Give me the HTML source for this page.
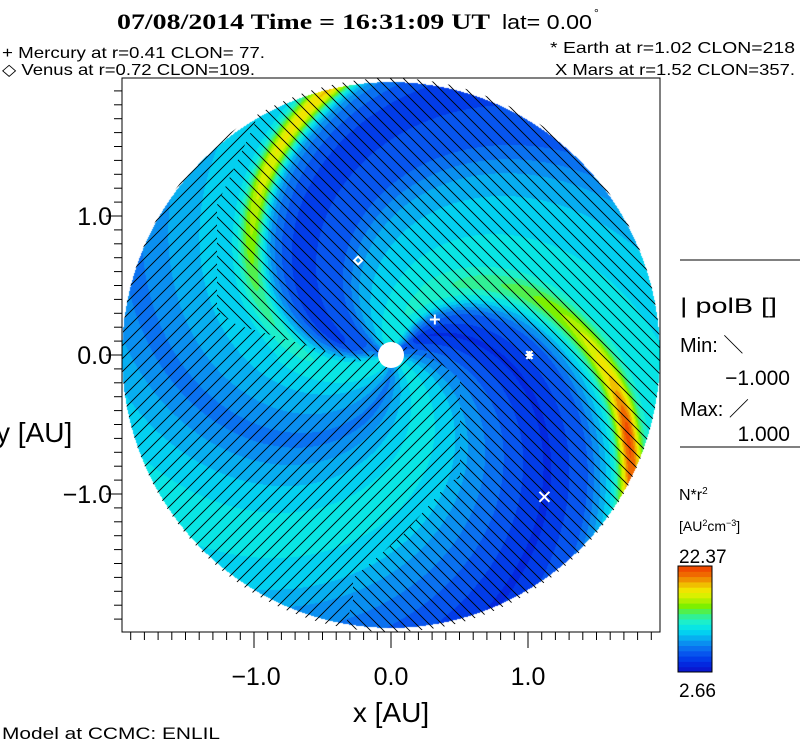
<!DOCTYPE html>
<html><head><meta charset="utf-8"><style>
html,body{margin:0;padding:0;background:#fff;}
body{width:800px;height:746px;position:relative;overflow:hidden;font-family:"Liberation Sans",sans-serif;}
#map{position:absolute;left:121px;top:77px;}
svg{position:absolute;left:0;top:0;}
</style></head><body>
<canvas id="map" width="540" height="557"></canvas>
<svg id="ov" width="800" height="746">
<defs>
<pattern id="hb" patternUnits="userSpaceOnUse" width="13" height="13"><path d="M-1,-1 L14,14 M-1,12 L1,14 M12,-1 L14,1" stroke="#000" stroke-width="0.9"/></pattern>
<pattern id="hf" patternUnits="userSpaceOnUse" width="13" height="13"><path d="M-1,14 L14,-1 M-1,1 L1,-1 M12,14 L14,12" stroke="#000" stroke-width="0.9"/></pattern>
<clipPath id="circ"><ellipse cx="391" cy="355" rx="269" ry="277"/></clipPath>
<clipPath id="neg"><polygon points="100,70 262,70 255,123 217,205 217,311 237,325 360,361 378,352 397,345 423,351 460,378 460,478 450,481 403,535 353,578 353,600 340,645 100,645"/></clipPath>
<clipPath id="pos"><polygon points="262,70 680,70 680,645 340,645 353,600 353,578 403,535 450,481 460,478 460,378 423,351 397,345 378,352 360,361 237,325 217,311 217,205 255,123"/></clipPath>
</defs>
<g clip-path="url(#circ)">
<rect x="100" y="70" width="580" height="575" fill="url(#hf)" clip-path="url(#neg)"/>
<rect x="100" y="70" width="580" height="575" fill="url(#hb)" clip-path="url(#pos)"/>
</g>
<rect x="122" y="78" width="538" height="554" fill="none" stroke="#000" stroke-width="1"/>
<g id="ticks" stroke="#000" stroke-width="1"></g>
<g id="markers"></g>
<circle cx="391" cy="355" r="13" fill="#fff"/>
<g font-family="Liberation Sans, sans-serif" fill="#000">
<text x="117" y="29" font-family="Liberation Serif, serif" font-weight="bold" font-size="22" textLength="373" lengthAdjust="spacingAndGlyphs">07/08/2014 Time = 16:31:09 UT</text>
<text x="502" y="29" font-size="20" textLength="90" lengthAdjust="spacingAndGlyphs">lat= 0.00</text>
<text x="594" y="17" font-size="12">°</text>
<text x="2" y="58" font-size="16" textLength="263" lengthAdjust="spacingAndGlyphs">+ Mercury at r=0.41 CLON= 77.</text>
<text x="2" y="75" font-size="16" textLength="253" lengthAdjust="spacingAndGlyphs">◇ Venus at r=0.72 CLON=109.</text>
<text x="550" y="53" font-size="16" textLength="245" lengthAdjust="spacingAndGlyphs">* Earth at  r=1.02 CLON=218</text>
<text x="555" y="75" font-size="16" textLength="240" lengthAdjust="spacingAndGlyphs">X Mars at r=1.52 CLON=357.</text>
<text x="256" y="685" font-size="25" text-anchor="middle">−1.0</text>
<text x="391" y="685" font-size="25" text-anchor="middle">0.0</text>
<text x="528" y="685" font-size="25" text-anchor="middle">1.0</text>
<text x="112" y="225" font-size="25" text-anchor="end">1.0</text>
<text x="112" y="364" font-size="25" text-anchor="end">0.0</text>
<text x="112" y="503" font-size="25" text-anchor="end">−1.0</text>
<text x="391" y="722" font-size="28" text-anchor="middle">x [AU]</text>
<text x="-4" y="442" font-size="28">y [AU]</text>
<text x="2" y="739" font-size="17" textLength="218" lengthAdjust="spacingAndGlyphs">Model at CCMC: ENLIL</text>
<line x1="680" y1="260" x2="800" y2="260" stroke="#000"/>
<text x="680" y="313" font-size="21" textLength="97" lengthAdjust="spacingAndGlyphs">| polB []</text>
<text x="680" y="352" font-size="20">Min: ＼</text>
<text x="790" y="385" font-size="21" text-anchor="end">−1.000</text>
<text x="680" y="416" font-size="20">Max: ／</text>
<text x="790" y="441" font-size="21" text-anchor="end">1.000</text>
<line x1="680" y1="447" x2="800" y2="447" stroke="#000"/>
<text x="679" y="500" font-size="16">N*r<tspan font-size="10" dy="-6">2</tspan></text>
<text x="679" y="531" font-size="14">[AU<tspan font-size="9" dy="-5">2</tspan><tspan dy="5">cm</tspan><tspan font-size="9" dy="-5">−3</tspan><tspan dy="5">]</tspan></text>
<text x="679" y="563" font-size="19">22.37</text>
<text x="679" y="697" font-size="19">2.66</text>
</g>
<g id="cbar"></g>
</svg>
<script>
// density structure along spiral coordinate psi (deg) and arm amplitudes
const psiNodes=[0,15,45,65,75,100,130,145,160,190,205,230,255,275,295,320,345,360];
const psiVals=[0.3,0.23,0.09,0.2,0.36,0.43,0.37,0.31,0.2,0.12,0.24,0.39,0.31,0.23,0.33,0.42,0.39,0.3];
const armPsi=[86,216];
const armRadii=[0,0.5,1.0,1.3,1.6,1.8,2.0];
const armGreenAmp=[0.42,0.47,0.56,0.66,0.8,0.97,0.93];
const armYellowAmp=[0.42,0.44,0.52,0.64,0.74,0.77,0.82];
const planetNames=['mercury','venus','earth','mars'];
const planetX=[0.32,-0.24,1.01,1.12];
const planetY=[0.255,0.68,0.0,-1.02];
const cmapStops=[0,0.1,0.2,0.3,0.4,0.48,0.55,0.62,0.7,0.76,0.84,0.9,1];
const cmapCols=['#0c10c8','#0030e6','#0a62f0','#0a9ef0','#00e0f0','#1ef0c8','#3cf078','#78f000','#c8f000','#f0f000','#f0b400','#f07800','#f03c00'];
const ticksAU=[-1.9,-1.8,-1.7,-1.6,-1.5,-1.4,-1.3,-1.2,-1.1,-1.0,-0.9,-0.8,-0.7,-0.6,-0.5,-0.4,-0.3,-0.2,-0.1,0,0.1,0.2,0.3,0.4,0.5,0.6,0.7,0.8,0.9,1.0,1.1,1.2,1.3,1.4,1.5,1.6,1.7,1.8,1.9];

const CX=391,CY=355,SX=137,SY=139,RMAX=1.963;
const xS=v=>CX+v*SX, yS=v=>CY-v*SY;
function hex(c){return [parseInt(c.substr(1,2),16),parseInt(c.substr(3,2),16),parseInt(c.substr(5,2),16)];}
const cols=cmapCols.map(hex);
function cmap(v){
  v=Math.max(0,Math.min(0.999,v)); v=(Math.floor(v*20)+0.5)/20;
  for(let i=0;i<cmapStops.length-1;i++){ if(v<=cmapStops[i+1]){const t=(v-cmapStops[i])/(cmapStops[i+1]-cmapStops[i]);
    return [0,1,2].map(k=>cols[i][k]+(cols[i+1][k]-cols[i][k])*t);} }
  return cols[cols.length-1];
}
function interp(xs,ys,x){for(let i=0;i<xs.length-1;i++){if(x<=xs[i+1]){const t=(x-xs[i])/(xs[i+1]-xs[i]);return ys[i]+(ys[i+1]-ys[i])*t;}}return ys[ys.length-1];}
function dens(xa,ya){
  const r=Math.hypot(xa,ya); let phi=Math.atan2(ya,xa)*180/Math.PI;
  let psi=((phi+r*57.3)%360+360)%360;
  let v=interp(psiNodes,psiVals,psi);
  const amps=[interp(armRadii,armGreenAmp,r),interp(armRadii,armYellowAmp,r)];
  for(let a=0;a<armPsi.length;a++){
    let d=psi-armPsi[a]; d=((d+180)%360+360)%360-180;
    const dpx=Math.abs(d)*Math.PI/180*Math.max(r,0.15)*SX;
    const sig=9+5*r;
    const g=Math.exp(-dpx*dpx/(2*sig*sig));
    v=v+(amps[a]-v)*g*(amps[a]>v?1:0);
  }
  return v;
}
const cv=document.getElementById('map'),ctx=cv.getContext('2d');
const img=ctx.createImageData(cv.width,cv.height);
for(let j=0;j<cv.height;j++)for(let i=0;i<cv.width;i++){
  const px=121+i+0.5,py=77+j+0.5; const xa=(px-CX)/SX, ya=(CY-py)/SY;
  const r=Math.hypot(xa,ya); if(r>RMAX) continue;
  const c=cmap(dens(xa,ya)); const k=(j*cv.width+i)*4;
  img.data[k]=c[0];img.data[k+1]=c[1];img.data[k+2]=c[2];img.data[k+3]=255;
}
ctx.putImageData(img,0,0);

const NS='http://www.w3.org/2000/svg';
const tg=document.getElementById('ticks');
ticksAU.forEach(t=>{
  const maj=Math.abs(Math.round(t*10)%10)===0;
  const l=document.createElementNS(NS,'line');
  l.setAttribute('x1',xS(t));l.setAttribute('x2',xS(t));l.setAttribute('y1',632);l.setAttribute('y2',maj?648:640);
  
  
  tg.appendChild(l);
  const m=document.createElementNS(NS,'line');
  m.setAttribute('y1',yS(t));m.setAttribute('y2',yS(t));m.setAttribute('x1',maj?106:114);m.setAttribute('x2',122);
  
  
  tg.appendChild(m);
});
const mg=document.getElementById('markers');
planetNames.forEach((n,i)=>{
  const x=xS(planetX[i]),y=yS(planetY[i]);
  const p=document.createElementNS(NS,'path');
  let d;
  if(n==='mercury') d=`M${x-5},${y}H${x+5}M${x},${y-5}V${y+5}`;
  else if(n==='venus') d=`M${x-4},${y}L${x},${y-4}L${x+4},${y}L${x},${y+4}Z`;
  else if(n==='earth') d=`M${x-4},${y}H${x+4}M${x-3},${y-4}L${x+3},${y+4}M${x+3},${y-4}L${x-3},${y+4}M${x},${y-4}V${y+4}`;
  else d=`M${x-5},${y-5}L${x+5},${y+5}M${x+5},${y-5}L${x-5},${y+5}`;
  p.setAttribute('d',d);p.setAttribute('stroke','#fff');p.setAttribute('stroke-width','2');p.setAttribute('fill','none');
  
  
  mg.appendChild(p);
});
const cb=document.getElementById('cbar');
for(let s=0;s<20;s++){
  const c=cmap((s+0.5)/20); const r=document.createElementNS(NS,'rect');
  const h=106/20;
  r.setAttribute('x',678);r.setAttribute('y',672-(s+1)*h);r.setAttribute('width',34);r.setAttribute('height',h+0.5);
  r.setAttribute('fill',`rgb(${c.map(Math.round).join(',')})`);
  
  
  cb.appendChild(r);
}
const fr=document.createElementNS(NS,'rect');
fr.setAttribute('x',678);fr.setAttribute('y',566);fr.setAttribute('width',34);fr.setAttribute('height',106);fr.setAttribute('fill','none');fr.setAttribute('stroke','#000');


cb.appendChild(fr);
</script>
</body></html>
